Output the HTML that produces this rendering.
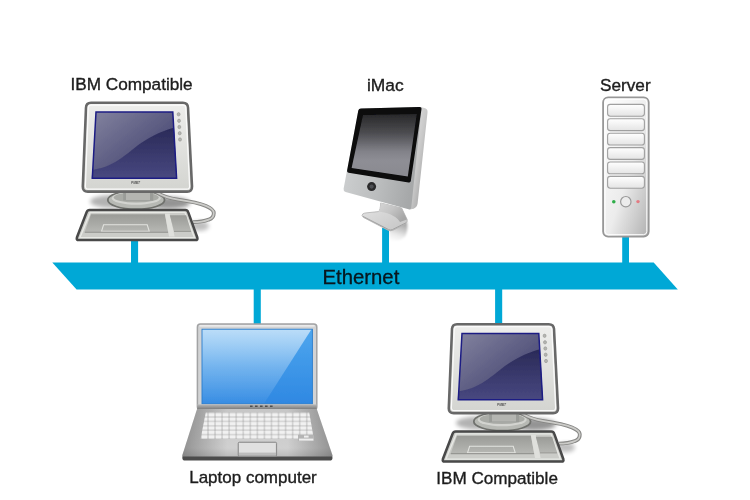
<!DOCTYPE html>
<html><head><meta charset="utf-8">
<style>
html,body{margin:0;padding:0;background:#fff;}
body{width:750px;height:500px;overflow:hidden;font-family:"Liberation Sans",sans-serif;}
svg{display:block}
text{font-family:"Liberation Sans",sans-serif;fill:#1c1c1c}
</style></head><body>
<svg width="750" height="500" viewBox="0 0 750 500">
<defs>
<filter id="soft" x="-5%" y="-5%" width="110%" height="110%"><feGaussianBlur stdDeviation="0.55"/></filter>
<filter id="b2" x="-30%" y="-30%" width="160%" height="160%"><feGaussianBlur stdDeviation="2.2"/></filter>
<filter id="b1" x="-30%" y="-30%" width="160%" height="160%"><feGaussianBlur stdDeviation="1.2"/></filter>
<linearGradient id="scr" x1="0" y1="0" x2="1" y2="1">
<stop offset="0" stop-color="#83839f"/><stop offset="0.55" stop-color="#58587f"/><stop offset="1" stop-color="#444474"/>
</linearGradient>
<linearGradient id="scrd" x1="0" y1="0" x2="0" y2="1">
<stop offset="0" stop-color="#2a2a58"/><stop offset="1" stop-color="#484880"/>
</linearGradient>
<linearGradient id="mon" x1="0" y1="0" x2="0" y2="1">
<stop offset="0" stop-color="#eeeeec"/><stop offset="1" stop-color="#d3d4d0"/>
</linearGradient>
<linearGradient id="kb" x1="0" y1="0" x2="0" y2="1">
<stop offset="0" stop-color="#e6e7e3"/><stop offset="1" stop-color="#cfd0cc"/>
</linearGradient>
<linearGradient id="keys" x1="0" y1="0" x2="0" y2="1">
<stop offset="0" stop-color="#9a9b97"/><stop offset="1" stop-color="#b6b7b3"/>
</linearGradient>
<linearGradient id="std" x1="0" y1="0" x2="0" y2="1">
<stop offset="0" stop-color="#e2e3df"/><stop offset="1" stop-color="#b9bab6"/>
</linearGradient>
<linearGradient id="srv" x1="0" y1="0" x2="1" y2="1">
<stop offset="0" stop-color="#ffffff"/><stop offset="0.55" stop-color="#ececec"/><stop offset="1" stop-color="#b0b0b0"/>
</linearGradient>
<linearGradient id="bay" x1="0" y1="0" x2="0" y2="1">
<stop offset="0" stop-color="#ffffff"/><stop offset="1" stop-color="#e4e4e4"/>
</linearGradient>
<linearGradient id="imscr" x1="0" y1="0" x2="0" y2="1">
<stop offset="0" stop-color="#28282a"/><stop offset="0.3" stop-color="#4c4c50"/><stop offset="0.6" stop-color="#828289"/><stop offset="0.75" stop-color="#8e8e95"/><stop offset="1" stop-color="#8a8a90"/>
</linearGradient>
<linearGradient id="imbody" x1="0" y1="0" x2="1" y2="0.25">
<stop offset="0" stop-color="#d2d4d5"/><stop offset="0.6" stop-color="#bbbdbe"/><stop offset="1" stop-color="#a6a8a9"/>
</linearGradient>
<linearGradient id="imside" x1="0" y1="0" x2="1" y2="1">
<stop offset="0" stop-color="#ececec"/><stop offset="0.5" stop-color="#c8c8c8"/><stop offset="1" stop-color="#8e8e8e"/>
</linearGradient>
<linearGradient id="imrefl" x1="0.3" y1="0" x2="0" y2="1"><stop offset="0" stop-color="#000" stop-opacity="0.34"/><stop offset="0.6" stop-color="#000" stop-opacity="0.08"/><stop offset="1" stop-color="#000" stop-opacity="0"/></linearGradient>
<linearGradient id="imneck" x1="0" y1="0" x2="1" y2="0.6"><stop offset="0" stop-color="#d6d6d6"/><stop offset="0.5" stop-color="#c4c4c4"/><stop offset="1" stop-color="#a6a6a6"/></linearGradient>
<linearGradient id="imfoot" x1="0" y1="0" x2="1" y2="1">
<stop offset="0" stop-color="#e4e4e4"/><stop offset="1" stop-color="#c4c4c4"/>
</linearGradient>
<linearGradient id="lscr" x1="0" y1="0" x2="0" y2="1">
<stop offset="0" stop-color="#4da6ee"/><stop offset="1" stop-color="#2f88e2"/>
</linearGradient>
<linearGradient id="lgl" x1="0" y1="0" x2="0" y2="1">
<stop offset="0" stop-color="#fff" stop-opacity="0.62"/><stop offset="0.5" stop-color="#fff" stop-opacity="0.28"/><stop offset="1" stop-color="#fff" stop-opacity="0.04"/>
</linearGradient>
<linearGradient id="lbase" x1="0" y1="0" x2="0" y2="1">
<stop offset="0" stop-color="#c6c6c6"/><stop offset="0.8" stop-color="#d0d0d0"/><stop offset="1" stop-color="#b8b8b8"/>
</linearGradient>
<linearGradient id="lbaseh" x1="0" y1="0" x2="1" y2="0">
<stop offset="0" stop-color="#000" stop-opacity="0.3"/><stop offset="0.3" stop-color="#000" stop-opacity="0"/><stop offset="0.7" stop-color="#000" stop-opacity="0"/><stop offset="1" stop-color="#000" stop-opacity="0.3"/>
</linearGradient>
<linearGradient id="lhinge" x1="0" y1="0" x2="0" y2="1">
<stop offset="0" stop-color="#b8b8b8"/><stop offset="1" stop-color="#7e7e7e"/>
</linearGradient>
<pattern id="keyp" x="201" y="412.6" width="7.05" height="4.4" patternUnits="userSpaceOnUse">
<rect x="0.5" y="0.5" width="6" height="3.4" rx="0.6" fill="#f1f1f1"/>
</pattern>
<g id="ibm">
  <!-- shadow -->
  <ellipse cx="112" cy="201.5" rx="22" ry="6.5" fill="#000" opacity="0.3" filter="url(#b2)"/>
  <ellipse cx="168" cy="203" rx="22" ry="6" fill="#000" opacity="0.42" filter="url(#b2)"/>
  <ellipse cx="200" cy="226" rx="9" ry="5" fill="#000" opacity="0.25" filter="url(#b2)"/>
  <!-- stand -->
  <ellipse cx="136.2" cy="200" rx="28.4" ry="9.2" fill="#b7b9b4" stroke="#6f716d" stroke-width="1.8"/>
  <ellipse cx="136.2" cy="198.2" rx="24.5" ry="6.6" fill="#d3d4d0"/>
  <ellipse cx="136.2" cy="197.4" rx="22.5" ry="5.2" fill="#a9aba6"/>
  <rect x="123.2" y="190" width="30" height="10.6" fill="#9a9c98"/>
  <rect x="126" y="190" width="24" height="10" fill="#b4b5b1"/>
  <!-- cable -->
  <path id="cbl" d="M156,192 C163,196.5 170,198.5 178,199.6 C186,200.7 198,202.5 206,205.9 C211,208 213.8,210 213.8,213 C213.8,217 211.5,218.8 208.8,219.6 C204,221.5 198,222.2 193,222.2" fill="none" stroke="#878785" stroke-width="3.8"/>
  <path d="M156,192 C163,196.5 170,198.5 178,199.6 C186,200.7 198,202.5 206,205.9 C211,208 213.8,210 213.8,213 C213.8,217 211.5,218.8 208.8,219.6 C204,221.5 198,222.2 193,222.2" fill="none" stroke="#cbcbc8" stroke-width="1.7"/>
  <!-- monitor -->
  <path d="M91,102.8 L182.8,102.8 Q187.8,102.8 188,107.8 L192,186.6 Q192.2,191.6 187.2,191.6 L87.8,191.6 Q82.6,191.6 82.8,186.6 L86,107.8 Q86.2,102.8 91,102.8 Z" fill="url(#mon)" stroke="#686868" stroke-width="2.6"/>
  <path d="M91,105.2 L183,105.2 Q185.6,105.2 185.8,107.8 L189.6,186 Q189.7,189.2 186.8,189.2 L88.2,189.2 Q85.3,189.2 85.4,186 L88.3,107.8 Q88.4,105.2 91,105.2 Z" fill="none" stroke="#fbfbfb" stroke-width="1.2"/>
  <!-- screen -->
  <path d="M96,111.9 L172.8,111.9 L176.6,178.2 L92.3,178.2 Z" fill="url(#scr)"/>
  <path d="M92.2,170 C118,166 128,151 145,140.5 C158,132.5 166,130 174,127.8 L176.9,178.3 L91.8,178.3 Z" fill="url(#scrd)"/>
  <path d="M96,111.9 L172.8,111.9 L176.6,178.2 L92.3,178.2 Z" fill="none" stroke="#1c1c84" stroke-width="1.5"/>
  <!-- buttons -->
  <g fill="#b4b5b1" stroke="#8c8d89" stroke-width="0.5">
  <ellipse cx="178.6" cy="114.3" rx="1.5" ry="1.7"/>
  <ellipse cx="179" cy="120.8" rx="1.5" ry="1.7"/>
  <ellipse cx="179.3" cy="127" rx="1.5" ry="1.7"/>
  <ellipse cx="179.7" cy="133.2" rx="1.5" ry="1.7"/>
  <ellipse cx="180" cy="139.5" rx="1.5" ry="1.7"/>
  </g>
  <text x="131" y="184.4" font-size="3.2" font-style="italic" font-weight="bold" style="fill:#555">PMBT</text>
  <!-- keyboard -->
  <path d="M89.6,210.1 L185.4,210.1 Q187.5,210.1 188.2,212.2 L197.3,237.5 Q198.1,240.1 195.5,240.1 L78.7,240.1 Q76.1,240.1 76.9,237.5 L86.6,212.2 Q87.4,210.1 89.6,210.1 Z" fill="#cbccc8" stroke="#484848" stroke-width="2.5"/>
  <path d="M90.2,212.4 L185,212.4 L194.5,237.7 L79.9,237.7 Z" fill="none" stroke="#e8e9e5" stroke-width="1.3"/>
  <path d="M91,214.3 L164.9,214.3 L168.1,231.8 L84.7,231.8 Z" fill="url(#keys)"/>
  <path d="M164.9,213.4 L169.8,213.4 L174.6,236.4 L169,236.4 Z" fill="#dfe0dc"/>
  <path d="M103.6,224.8 L147.2,224.8 L149.3,231.4 L101.5,231.4 Z" fill="none" stroke="#e2e3df" stroke-width="1.1"/>
  <path d="M84.7,232.2 L168.1,232.2" stroke="#8a8b87" stroke-width="1"/>
  <path d="M169.8,215.2 L186.2,215.2 L191.1,231.2 L174,231.2 Z" fill="url(#keys)"/>
  <path d="M174,231.4 L191.1,231.4" stroke="#8a8b87" stroke-width="0.8"/>
</g>
</defs>
<rect width="750" height="500" fill="#fff"/>
<g filter="url(#soft)">
<!-- cables -->
<g fill="#03a8d6">
<rect x="131" y="239" width="7.1" height="25"/>
<rect x="382.1" y="228" width="6.9" height="36"/>
<rect x="622.2" y="236" width="6.8" height="28"/>
<rect x="253.7" y="288" width="7.1" height="36"/>
<rect x="495.1" y="288" width="7.1" height="37"/>
<polygon points="52.3,262.5 653.7,262.5 677.8,289.6 76.6,289.6"/>
</g>
<text x="322.6" y="284.1" font-size="20.3" style="fill:#08161d" stroke="#08161d" stroke-width="0.3">Ethernet</text>

<use href="#ibm"/>
<use href="#ibm" transform="translate(366,221.5)"/>

<!-- iMac -->
<g id="imac">
  <!-- reflection -->
  <path d="M389.4,228 L407,221.5 Q408.4,231 405,236.5 Q399,242.5 389.4,240 Z" fill="url(#imrefl)" filter="url(#b1)"/>
  <!-- neck + foot -->
  <path d="M380.6,203 L401.6,208 L407.2,219.6 Q407.6,222.4 405.6,223.8 L392.6,230.4 Q390.4,231.2 388,230.2 L363.4,217.4 Q361,215.6 362.8,213.9 Q364,213.1 366,212.9 L378.4,211.6 Q380.6,210 380.6,203 Z" fill="url(#imfoot)" stroke="#b0b0b0" stroke-width="0.8"/>
  <path d="M380.6,203 L401.6,208 L407,219.4 L400,222 C395,214.5 386,212.8 378.4,211.6 Q380.6,210 380.6,203 Z" fill="url(#imneck)"/>
  <path d="M363,216.4 L388.6,229.6 Q390.4,230.4 392.4,229.6 L406,222.8" fill="none" stroke="#a2a2a2" stroke-width="1"/>
  <!-- side -->
  <path d="M420.5,107 L425.2,108.3 Q427.9,109.4 427.5,112.4 L417.6,203.6 Q417,207.4 413.6,208.8 L409.6,209.6 Z" fill="url(#imside)"/>
  <!-- front -->
  <path d="M361,108.4 L419.5,107 Q421.8,107 421.4,109.4 L411.3,207.6 Q410.9,210 408.5,209.3 L345.6,192 Q343.2,191.2 343.6,188.8 L358.3,110.6 Q358.7,108.5 361,108.4 Z" fill="url(#imbody)"/>
  <!-- bezel -->
  <path d="M361,108.4 L419.5,107 Q421.8,107 421.4,109.4 L410.8,181 Q410.5,182.8 408.6,182.4 L348.6,172.8 Q346.8,172.5 347.1,170.6 L358.3,110.6 Q358.7,108.5 361,108.4 Z" fill="#0a0a0b"/>
  <path d="M363,115 L416.8,114.1 L407.8,176.4 L351.6,168 Z" fill="url(#imscr)"/>
  <circle cx="371.6" cy="186.6" r="4.5" fill="#29292b"/>
  <circle cx="371.6" cy="186.6" r="2.1" fill="#4e4f53"/>
</g>

<!-- Server -->
<g id="server">
  <rect x="603.1" y="97.3" width="45.6" height="139.3" rx="5" ry="5" fill="url(#srv)" stroke="#979797" stroke-width="1.8"/>
  <rect x="605" y="99.2" width="41.8" height="135.5" rx="3.4" ry="3.4" fill="none" stroke="#fff" stroke-width="1"/>
  <g fill="url(#bay)" stroke="#a0a0a0" stroke-width="1.1">
  <rect x="607.6" y="104.4" width="36.8" height="11.8" rx="2.6"/>
  <rect x="607.6" y="118.8" width="36.8" height="11.8" rx="2.6"/>
  <rect x="607.6" y="133.2" width="36.8" height="11.8" rx="2.6"/>
  <rect x="607.6" y="147.6" width="36.8" height="11.8" rx="2.6"/>
  <rect x="607.6" y="162" width="36.8" height="11.8" rx="2.6"/>
  <rect x="607.6" y="176.4" width="36.8" height="11.8" rx="2.6"/>
  </g>
  <circle cx="625.8" cy="201.7" r="5.2" fill="#ececec" stroke="#9a9a9a" stroke-width="1.2"/>
  <circle cx="613.8" cy="201.7" r="1.8" fill="#2fae4a"/>
  <circle cx="638" cy="201.6" r="1.7" fill="#e47a82"/>
</g>

<!-- Laptop -->
<g id="laptop">
  <rect x="197.4" y="324.1" width="119.4" height="85.7" rx="3" ry="3" fill="#d2d3d4" stroke="#a2a3a4" stroke-width="1.5"/>
  <path d="M199.5,325.9 L314.6,325.9" stroke="#f2f2f2" stroke-width="1.4"/>
  <rect x="202" y="329.2" width="110.4" height="74.6" fill="url(#lscr)"/>
  <path d="M202,329.2 L311.5,329.2 L264,403.8 L202,403.8 Z" fill="url(#lgl)"/>
  <rect x="202" y="329.2" width="110.4" height="74.6" fill="none" stroke="#2a7ccc" stroke-width="0.9"/>
  <!-- base -->
  <path d="M197.2,408.6 L316.6,408.6 L332.4,455 Q333,457.6 330.4,457.8 L184.4,457.8 Q181.8,457.6 182.4,455 Z" fill="url(#lbase)"/>
  <path d="M197.2,408.6 L316.6,408.6 L332.4,455 Q333,457.6 330.4,457.8 L184.4,457.8 Q181.8,457.6 182.4,455 Z" fill="url(#lbaseh)"/>
  <path d="M182.5,456.6 L332.3,456.6 Q333.2,460.6 329.6,460.6 L185.2,460.6 Q181.6,460.6 182.5,456.6 Z" fill="#4c4c4c"/>
  <rect x="197.2" y="404.4" width="119.4" height="4.6" fill="url(#lhinge)"/>
  <g fill="#3a3a3a"><rect x="250" y="405.6" width="2.6" height="1.2"/><rect x="255" y="405.6" width="2.6" height="1.2"/><rect x="260" y="405.6" width="2.6" height="1.2"/><rect x="265" y="405.6" width="2.6" height="1.2"/><rect x="270" y="405.6" width="2.6" height="1.2"/></g>
  <!-- keys -->
  <path d="M205.8,412.6 L309.2,412.6 L313.8,439 L200.6,439 Z" fill="#bdbdbd"/>
  <path d="M205.8,412.6 L309.2,412.6 L313.8,439 L200.6,439 Z" fill="url(#keyp)"/>
  <path d="M298,434.8 L313.2,434.8 L314.2,441 L298,441 Z" fill="#b4b4b4"/>
  <rect x="299" y="438.6" width="14.4" height="2" fill="#eee"/>
  <rect x="304" y="435.6" width="4.6" height="2" fill="#eee"/>
  <rect x="238.2" y="442.2" width="38.4" height="14" rx="1.2" fill="#bcbcbc" stroke="#8a8a8a" stroke-width="1"/>
  <rect x="239" y="443" width="36.8" height="9.6" fill="#e0e0e0"/>
</g>

<!-- labels -->
<g font-size="17.2" stroke="#1c1c1c" stroke-width="0.35">
<text x="70.4" y="89.7">IBM Compatible</text>
<text x="367" y="91.3" font-size="17.4">iMac</text>
<text x="600" y="91">Server</text>
<text x="189.2" y="483.2" font-size="17">Laptop computer</text>
<text x="436.3" y="483.9" font-size="17.1">IBM Compatible</text>
</g>
</g>
</svg>
</body></html>
